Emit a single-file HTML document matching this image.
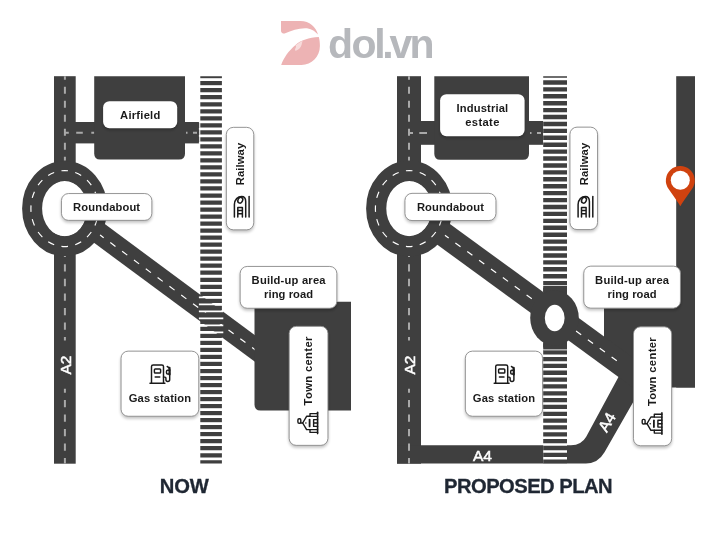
<!DOCTYPE html>
<html lang="en">
<head>
<meta charset="utf-8">
<title>Town map: now and proposed plan</title>
<style>
html,body{margin:0;padding:0;background:#fff;}
body{width:712px;height:534px;overflow:hidden;font-family:"Liberation Sans",sans-serif;}
svg{display:block;font-family:"Liberation Sans",sans-serif;will-change:transform;}
</style>
</head>
<body>
<svg width="712" height="534" viewBox="0 0 712 534">
<rect width="712" height="534" fill="#fff"/>
<defs><filter id="sh" x="-20%" y="-20%" width="140%" height="160%"><feGaussianBlur in="SourceAlpha" stdDeviation="1.6"/><feOffset dx="0" dy="2"/><feComponentTransfer><feFuncA type="linear" slope="0.24"/></feComponentTransfer></filter></defs>
<path d="M281 21 H300.5 C309.5 21 316 27 318 34.6 C314.5 30.6 310.5 28.3 305 28.3 C298 28.3 291.5 30.8 284.6 33.6 C282.6 33.6 281 32.6 281 31 Z" fill="#edb3b4"/>
<path d="M318.8 37.1 C309 37.6 300.5 40.5 295.5 45 C288.5 51 283.6 58 281.2 64.9 H301.5 C311.5 64.9 319.9 57 319.9 46 C319.9 42.6 319.5 39.6 318.8 37.1 Z" fill="#edb3b4"/>
<path d="M302.6 40.7 C299.5 42.2 297 44 295.3 45.6 C296 46 296.4 46.6 295.6 48 C294.6 49.8 294.9 51.2 296.4 50.6 C299 49.6 301 47.3 301.6 44.8 C301.9 43.4 302.2 41.8 302.6 40.7 Z" fill="#f7dcdc"/>
<text x="327.9 351.4 374.2 382.2 389.6 409.5" y="58.4" font-size="41" font-weight="bold" fill="#b6b8bc">dol.vn</text>
<line x1="64.7" y1="207.73" x2="262.0" y2="353.73" stroke="#3f3f3f" stroke-width="21.5"/>
<line x1="96.1" y1="232.06" x2="262.0" y2="354.83" stroke="#fff" stroke-width="1.2" stroke-dasharray="6.4 8.3" stroke-dashoffset="-3"/>
<rect x="54" y="76.2" width="21.7" height="387.5" fill="#3f3f3f"/>
<rect x="75" y="122" width="124.2" height="21.4" fill="#3f3f3f"/>
<path d="M94.2 76.2 H185 V153.6 Q185 159.6 179 159.6 H100.2 Q94.2 159.6 94.2 153.6 Z" fill="#3f3f3f"/>
<path d="M254.5 301.8 H351 V410.4 H260.5 Q254.5 410.4 254.5 404.4 Z" fill="#3f3f3f"/>
<ellipse cx="64.7" cy="208.6" rx="22.6" ry="28" fill="#fff"/>
<ellipse cx="64.7" cy="208.6" rx="32.6" ry="37.7" fill="none" stroke="#3f3f3f" stroke-width="20"/>
<path d="M64.7 170.6 A33.8 38 0 1 1 64.7 246.6 A33.8 38 0 1 1 64.7 170.6" pathLength="224" fill="none" stroke="#fff" stroke-width="1.15" stroke-dasharray="6.6 7.4" stroke-dashoffset="3.3"/>
<line x1="64.9" y1="76.2" x2="64.9" y2="160.6" stroke="#a9a9a9" stroke-width="2" stroke-dasharray="7 7" stroke-dashoffset="3.5"/>
<line x1="64.9" y1="256" x2="64.9" y2="340.4" stroke="#a9a9a9" stroke-width="2" stroke-dasharray="7.3 7.24" stroke-dashoffset="6.24"/>
<line x1="64.9" y1="388.8" x2="64.9" y2="463.6" stroke="#a9a9a9" stroke-width="2" stroke-dasharray="7.3 7.22" stroke-dashoffset="3.4"/>
<line x1="65" y1="132.8" x2="94.5" y2="132.8" stroke="#a9a9a9" stroke-width="2" stroke-dasharray="3.8 7.4 6.6 8.5 2.8 100"/>
<line x1="186" y1="132.8" x2="200" y2="132.8" stroke="#a9a9a9" stroke-width="2" stroke-dasharray="1.5 5.5 4 10"/>
<line x1="211.1" y1="76.2" x2="211.1" y2="463.5" stroke="#3f3f3f" stroke-width="21.6" stroke-dasharray="4.25 2.77" stroke-dashoffset="2.15"/>
<line x1="211.1" y1="76.2" x2="211.1" y2="463.5" stroke="#fff" stroke-width="24.4" stroke-dasharray="1.7 5.32" stroke-dashoffset="4.385"/>
<rect x="103.10" y="101.20" width="74.10" height="27.00" rx="6.3" ry="6.3" fill="#fff" filter="url(#sh)"/><rect x="103.10" y="101.20" width="74.10" height="27.00" rx="6.3" ry="6.3" fill="#fff"/>
<text x="140.20" y="118.90" font-size="11.2" font-weight="bold" fill="#1a1a1a" text-anchor="middle" textLength="40.2" lengthAdjust="spacing">Airfield</text>
<rect x="61.00" y="193.10" width="91.30" height="27.70" rx="7.5" ry="7.5" fill="#fff" filter="url(#sh)"/><rect x="61.45" y="193.55" width="90.40" height="26.80" rx="7.05" ry="7.05" fill="#fff" stroke="#8a8a8a" stroke-width="0.9"/>
<text x="106.60" y="210.90" font-size="11.2" font-weight="bold" fill="#1a1a1a" text-anchor="middle" textLength="67" lengthAdjust="spacing">Roundabout</text>
<rect x="225.90" y="126.90" width="28.30" height="103.40" rx="7.5" ry="7.5" fill="#fff" filter="url(#sh)"/><rect x="226.35" y="127.35" width="27.40" height="102.50" rx="7.05" ry="7.05" fill="#fff" stroke="#8a8a8a" stroke-width="0.9"/>
<text x="244.10" y="164.00" font-size="11.2" font-weight="bold" fill="#1a1a1a" text-anchor="middle" textLength="42.4" lengthAdjust="spacing" transform="rotate(-90 244.10 164.00)">Railway</text>
<g transform="translate(0.00 0.00)" fill="none" stroke="#1a1a1a" stroke-width="1.5" stroke-linecap="round" stroke-linejoin="round"><path d="M234.4 217 V204.6 C234.4 199.6 238 196.4 241.6 196.4 C244.4 196.4 245.7 198.6 245.7 201.6 V217"/><path d="M249.1 196.4 V217"/><path d="M237.8 217 V207.4 H242.4 V217 M237.8 210.5 H242.4 M237.8 213.7 H242.4"/><ellipse cx="240.3" cy="200.2" rx="2.3" ry="3" transform="rotate(25 240.3 200.2)"/></g>
<rect x="239.70" y="266.00" width="97.60" height="42.70" rx="7.5" ry="7.5" fill="#fff" filter="url(#sh)"/><rect x="240.15" y="266.45" width="96.70" height="41.80" rx="7.05" ry="7.05" fill="#fff" stroke="#8a8a8a" stroke-width="0.9"/>
<text x="288.60" y="284.30" font-size="11.2" font-weight="bold" fill="#1a1a1a" text-anchor="middle" textLength="74" lengthAdjust="spacing">Build-up area</text>
<text x="288.60" y="298.30" font-size="11.2" font-weight="bold" fill="#1a1a1a" text-anchor="middle" textLength="49" lengthAdjust="spacing">ring road</text>
<rect x="288.70" y="325.90" width="39.70" height="119.90" rx="7.5" ry="7.5" fill="#fff" filter="url(#sh)"/><rect x="289.15" y="326.35" width="38.80" height="119.00" rx="7.05" ry="7.05" fill="#fff" stroke="#8a8a8a" stroke-width="0.9"/>
<text x="312.30" y="371.00" font-size="11.2" font-weight="bold" fill="#1a1a1a" text-anchor="middle" textLength="68.8" lengthAdjust="spacing" transform="rotate(-90 312.30 371.00)">Town center</text>
<g transform="translate(0.00 0.00)" fill="none" stroke="#1a1a1a" stroke-width="1.4" stroke-linecap="round" stroke-linejoin="round"><path d="M317.6 412.2 V433.6" stroke-width="1.6"/><path d="M317.6 413.6 H310 V416.4 H317.6 M317.6 429.6 H310 V432.4 H317.6"/><path d="M310 416.3 H306.6 L302.7 423 L306.6 429.6 H310"/><path d="M302.7 423 H300.8"/><rect x="297.9" y="418.7" width="2.9" height="4.6" rx="1.2"/><path d="M309.6 419.6 V426.4" stroke-width="1.8"/><path d="M313.6 419.6 H317.6 M313.6 423 H317.6 M313.6 426.4 H317.6 M313.6 419.6 V426.4"/><circle cx="305.9" cy="423" r="0.75" fill="#1a1a1a" stroke="none"/></g>
<rect x="120.60" y="350.70" width="78.60" height="66.00" rx="7.5" ry="7.5" fill="#fff" filter="url(#sh)"/><rect x="121.05" y="351.15" width="77.70" height="65.10" rx="7.05" ry="7.05" fill="#fff" stroke="#8a8a8a" stroke-width="0.9"/>
<text x="159.90" y="402.40" font-size="11.2" font-weight="bold" fill="#1a1a1a" text-anchor="middle" textLength="62.3" lengthAdjust="spacing">Gas station</text>
<g transform="translate(0.00 0.00)" fill="none" stroke="#1a1a1a" stroke-width="1.45" stroke-linecap="round" stroke-linejoin="round"><path d="M151.5 383.3 V366.6 Q151.5 364.9 153.2 364.9 H161.8 Q163.5 364.9 163.5 366.6 V383.3"/><path d="M150 383.3 H164.9"/><rect x="154.4" y="369" width="6.2" height="4" rx="0.8"/><path d="M155.2 377 H159.8"/><path d="M163.5 377.1 H165 Q165.9 377.1 165.9 378 V379.6 Q165.9 381.5 167.8 381.5 Q169.7 381.5 169.7 379.6 V369.6 Q169.7 367.6 167.2 366.5"/><path d="M169.7 370.3 H167.6 Q166.5 370.3 166.5 371.6 V373 Q166.5 374 167.6 374 H169.7"/><path d="M169.5 367.8 V374.6" stroke-width="2.1"/></g>
<text x="70.60" y="365.00" font-size="15.5" font-weight="normal" fill="#fff" text-anchor="middle" transform="rotate(-90 70.60 365.00)" stroke="#fff" stroke-width="0.5">A2</text>
<rect x="397" y="76.2" width="24" height="387.5" fill="#3f3f3f"/>
<rect x="420" y="121" width="123.4" height="23.8" fill="#3f3f3f"/>
<path d="M434.3 76.2 H529 V153.8 Q529 159.8 523 159.8 H440.3 Q434.3 159.8 434.3 153.8 Z" fill="#3f3f3f"/>
<rect x="676.2" y="76.2" width="18.8" height="311.3" fill="#3f3f3f"/>
<path d="M604 302 H695 V387.5 H625 L619 376.5 L604 365 Z" fill="#3f3f3f"/>
<path d="M397.1 445.2 H571 Q581.5 445.2 586.2 436.8 L618.6 376.8 L650 380 L641.5 387.5 L604.5 452.2 Q598 463.4 586 463.4 H397.1 Z" fill="#3f3f3f"/>
<rect x="543.2" y="76.2" width="23.8" height="216" fill="#fff"/>
<rect x="543.2" y="343" width="23.8" height="120.5" fill="#fff"/>
<line x1="555.1" y1="76.2" x2="555.1" y2="292" stroke="#3f3f3f" stroke-width="23.8" stroke-dasharray="4.4 2.52" stroke-dashoffset="2.88"/>
<line x1="555.1" y1="343.25" x2="555.1" y2="463.5" stroke="#3f3f3f" stroke-width="23.8" stroke-dasharray="4.29 2.55"/>
<line x1="409.2" y1="209.22" x2="640.0" y2="377.70" stroke="#3f3f3f" stroke-width="24.2"/>
<line x1="443.5" y1="234.25" x2="534" y2="300.32" stroke="#fff" stroke-width="1.2" stroke-dasharray="6.4 8.3"/>
<line x1="576" y1="330.98" x2="618" y2="361.64" stroke="#fff" stroke-width="1.2" stroke-dasharray="6.4 8.3"/>
<rect x="543.2" y="286" width="23.8" height="63" fill="#3f3f3f"/>
<rect x="543.2" y="349" width="23.8" height="1.6" fill="#a9a9a9"/>
<ellipse cx="554.5" cy="318" rx="24.3" ry="27.6" fill="#3f3f3f"/>
<ellipse cx="554.7" cy="318" rx="9.9" ry="13.2" fill="#fff"/>
<ellipse cx="409.2" cy="208.6" rx="22.9" ry="28" fill="#fff"/>
<ellipse cx="409.2" cy="208.6" rx="33" ry="37.7" fill="none" stroke="#3f3f3f" stroke-width="20.2"/>
<path d="M409.2 170.6 A33.8 38 0 1 1 409.2 246.6 A33.8 38 0 1 1 409.2 170.6" pathLength="224" fill="none" stroke="#fff" stroke-width="1.15" stroke-dasharray="6.6 7.4" stroke-dashoffset="3.3"/>
<line x1="409" y1="76.2" x2="409" y2="160.6" stroke="#a9a9a9" stroke-width="2" stroke-dasharray="7 7" stroke-dashoffset="3.5"/>
<line x1="409" y1="256" x2="409" y2="340.4" stroke="#a9a9a9" stroke-width="2" stroke-dasharray="7.3 7.24" stroke-dashoffset="6.24"/>
<line x1="409" y1="388.8" x2="409" y2="463.6" stroke="#a9a9a9" stroke-width="2" stroke-dasharray="7.3 7.22" stroke-dashoffset="3.4"/>
<line x1="408" y1="133" x2="440" y2="133" stroke="#a9a9a9" stroke-width="2" stroke-dasharray="5 6.3 7.7 100"/>
<line x1="530" y1="133" x2="543" y2="133" stroke="#a9a9a9" stroke-width="2" stroke-dasharray="1.5 5.5 4 10"/>
<rect x="440.10" y="94.20" width="84.50" height="42.00" rx="6.3" ry="6.3" fill="#fff" filter="url(#sh)"/><rect x="440.10" y="94.20" width="84.50" height="42.00" rx="6.3" ry="6.3" fill="#fff"/>
<text x="482.30" y="111.70" font-size="11.2" font-weight="bold" fill="#1a1a1a" text-anchor="middle" textLength="51.6" lengthAdjust="spacing">Industrial</text>
<text x="482.30" y="125.90" font-size="11.2" font-weight="bold" fill="#1a1a1a" text-anchor="middle" textLength="34.3" lengthAdjust="spacing">estate</text>
<rect x="404.50" y="192.90" width="91.90" height="28.10" rx="7.5" ry="7.5" fill="#fff" filter="url(#sh)"/><rect x="404.95" y="193.35" width="91.00" height="27.20" rx="7.05" ry="7.05" fill="#fff" stroke="#8a8a8a" stroke-width="0.9"/>
<text x="450.40" y="210.90" font-size="11.2" font-weight="bold" fill="#1a1a1a" text-anchor="middle" textLength="67" lengthAdjust="spacing">Roundabout</text>
<rect x="569.50" y="126.70" width="28.50" height="103.30" rx="7.5" ry="7.5" fill="#fff" filter="url(#sh)"/><rect x="569.95" y="127.15" width="27.60" height="102.40" rx="7.05" ry="7.05" fill="#fff" stroke="#8a8a8a" stroke-width="0.9"/>
<text x="587.80" y="164.00" font-size="11.2" font-weight="bold" fill="#1a1a1a" text-anchor="middle" textLength="42.4" lengthAdjust="spacing" transform="rotate(-90 587.80 164.00)">Railway</text>
<g transform="translate(343.70 0.00)" fill="none" stroke="#1a1a1a" stroke-width="1.5" stroke-linecap="round" stroke-linejoin="round"><path d="M234.4 217 V204.6 C234.4 199.6 238 196.4 241.6 196.4 C244.4 196.4 245.7 198.6 245.7 201.6 V217"/><path d="M249.1 196.4 V217"/><path d="M237.8 217 V207.4 H242.4 V217 M237.8 210.5 H242.4 M237.8 213.7 H242.4"/><ellipse cx="240.3" cy="200.2" rx="2.3" ry="3" transform="rotate(25 240.3 200.2)"/></g>
<rect x="583.30" y="265.70" width="97.60" height="42.90" rx="7.5" ry="7.5" fill="#fff" filter="url(#sh)"/><rect x="583.75" y="266.15" width="96.70" height="42.00" rx="7.05" ry="7.05" fill="#fff" stroke="#8a8a8a" stroke-width="0.9"/>
<text x="632.10" y="284.30" font-size="11.2" font-weight="bold" fill="#1a1a1a" text-anchor="middle" textLength="74" lengthAdjust="spacing">Build-up area</text>
<text x="632.10" y="298.30" font-size="11.2" font-weight="bold" fill="#1a1a1a" text-anchor="middle" textLength="49" lengthAdjust="spacing">ring road</text>
<rect x="633.00" y="326.40" width="39.10" height="119.80" rx="7.5" ry="7.5" fill="#fff" filter="url(#sh)"/><rect x="633.45" y="326.85" width="38.20" height="118.90" rx="7.05" ry="7.05" fill="#fff" stroke="#8a8a8a" stroke-width="0.9"/>
<text x="656.50" y="371.70" font-size="11.2" font-weight="bold" fill="#1a1a1a" text-anchor="middle" textLength="68.8" lengthAdjust="spacing" transform="rotate(-90 656.50 371.70)">Town center</text>
<g transform="translate(344.30 0.70)" fill="none" stroke="#1a1a1a" stroke-width="1.4" stroke-linecap="round" stroke-linejoin="round"><path d="M317.6 412.2 V433.6" stroke-width="1.6"/><path d="M317.6 413.6 H310 V416.4 H317.6 M317.6 429.6 H310 V432.4 H317.6"/><path d="M310 416.3 H306.6 L302.7 423 L306.6 429.6 H310"/><path d="M302.7 423 H300.8"/><rect x="297.9" y="418.7" width="2.9" height="4.6" rx="1.2"/><path d="M309.6 419.6 V426.4" stroke-width="1.8"/><path d="M313.6 419.6 H317.6 M313.6 423 H317.6 M313.6 426.4 H317.6 M313.6 419.6 V426.4"/><circle cx="305.9" cy="423" r="0.75" fill="#1a1a1a" stroke="none"/></g>
<rect x="464.90" y="350.70" width="78.10" height="66.00" rx="7.5" ry="7.5" fill="#fff" filter="url(#sh)"/><rect x="465.35" y="351.15" width="77.20" height="65.10" rx="7.05" ry="7.05" fill="#fff" stroke="#8a8a8a" stroke-width="0.9"/>
<text x="504.00" y="402.40" font-size="11.2" font-weight="bold" fill="#1a1a1a" text-anchor="middle" textLength="62.3" lengthAdjust="spacing">Gas station</text>
<g transform="translate(344.20 0.00)" fill="none" stroke="#1a1a1a" stroke-width="1.45" stroke-linecap="round" stroke-linejoin="round"><path d="M151.5 383.3 V366.6 Q151.5 364.9 153.2 364.9 H161.8 Q163.5 364.9 163.5 366.6 V383.3"/><path d="M150 383.3 H164.9"/><rect x="154.4" y="369" width="6.2" height="4" rx="0.8"/><path d="M155.2 377 H159.8"/><path d="M163.5 377.1 H165 Q165.9 377.1 165.9 378 V379.6 Q165.9 381.5 167.8 381.5 Q169.7 381.5 169.7 379.6 V369.6 Q169.7 367.6 167.2 366.5"/><path d="M169.7 370.3 H167.6 Q166.5 370.3 166.5 371.6 V373 Q166.5 374 167.6 374 H169.7"/><path d="M169.5 367.8 V374.6" stroke-width="2.1"/></g>
<text x="414.80" y="365.00" font-size="15.5" font-weight="normal" fill="#fff" text-anchor="middle" transform="rotate(-90 414.80 365.00)" stroke="#fff" stroke-width="0.5">A2</text>
<text x="482.50" y="460.50" font-size="15.5" font-weight="normal" fill="#fff" text-anchor="middle" stroke="#fff" stroke-width="0.5">A4</text>
<text x="611.50" y="424.80" font-size="15.5" font-weight="normal" fill="#fff" text-anchor="middle" transform="rotate(-60 611.50 424.80)" stroke="#fff" stroke-width="0.5">A4</text>
<path d="M680.3 206.3 Q679.6 204.6 668.6 189 A14.45 14.45 0 1 1 692 189 Q681 204.6 680.3 206.3 Z" fill="#d0420f"/>
<circle cx="680.3" cy="180.2" r="9.5" fill="#fff"/>
<text x="184.30" y="492.90" font-size="20.2" font-weight="bold" fill="#1f2733" text-anchor="middle" textLength="49.2" lengthAdjust="spacing" stroke="#1f2733" stroke-width="0.3">NOW</text>
<text x="528.30" y="493.00" font-size="20.2" font-weight="bold" fill="#1f2733" text-anchor="middle" textLength="168.6" lengthAdjust="spacing" stroke="#1f2733" stroke-width="0.3">PROPOSED PLAN</text>
</svg>
</body>
</html>
